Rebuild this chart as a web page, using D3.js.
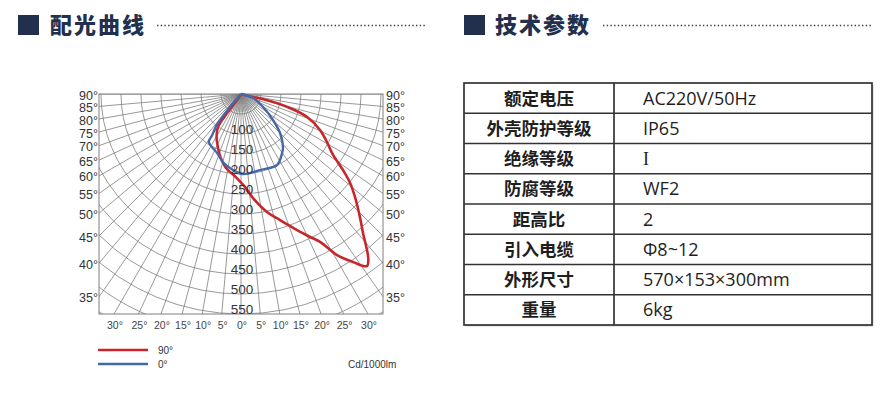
<!DOCTYPE html>
<html><head><meta charset="utf-8">
<script src="https://cdn.jsdelivr.net/npm/d3@7"></script>
<style>body{margin:0;background:#fff}svg{display:block}</style>
</head><body>
<svg id="c" width="887" height="397"></svg>
<script>
// ---- data ----
const sectionTitles = ["配光曲线", "技术参数"];
const ringValues = [100,150,200,250,300,350,400,450,500,550];
const sideAngles = [90,85,80,75,70,65,60,55,50,45,40,35];
const bottomAngles = [30,25,20,15,10,5,0];
// C-90 plane (red): angle from nadir (deg, + = right), intensity cd/1000lm
const redAngles = [-35,-34,-36,-35,-30,-26,-18,-12,-3,2.5,6.6,12.4,17.2,22.4,25.8,28.2,30.8,33.7,36.2,37.8,41.3,44,47.9,50.8,53.3,56.5,60.8,65.5,70.8,74,77,75,75];
const redValues = [0,20,59,100,122,136,166,187,210,233,262,302,330,368,397,420,469,505,533,519,462,428,384,352,318,276,246,217,175,127,56,25,0];
// C-0 plane (blue)
const blueAngles = [-42,-41,-40,-39,-38,-35,-34,-29,-22,-15,-6,1.4,14,26.9,34.8,38.4,45,50.9,59.4,71.6,75];
const blueValues = [0,22,53,84,100,126,144,151,159,176,191,200,196,199,180,169,138,103,64,32,0];
const legendNames = ["90°","0°"];
const unitLabel = "Cd/1000lm";
const tableKeys = ["额定电压","外壳防护等级","绝缘等级","防腐等级","距高比","引入电缆","外形尺寸","重量"];
const tableVals = ["AC220V/50Hz","IP65","I","WF2","2","Φ8~12","570×153×300mm","6kg"];

// ---- layout ----
const svg = d3.select("#c");
const navy = "#22304e";
const red = "#c9262c", blue = "#4568a8";

const hdr = [{x:18, tx:50, dx0:157, dx1:425, t:sectionTitles[0]},{x:464, tx:495, dx0:603, dx1:872, t:sectionTitles[1]}];
hdr.forEach(h=>{
  svg.append("rect").attr("x",h.x).attr("y",15).attr("width",21).attr("height",20).attr("fill",navy);
  svg.append("text").attr("x",h.tx).attr("y",33).text(h.t)
    .attr("font-family","'Noto Sans CJK SC'").attr("font-weight",900).attr("font-size",22)
    .attr("letter-spacing",2).attr("fill",navy);
  svg.append("line").attr("x1",h.dx0).attr("x2",h.dx1).attr("y1",25.5).attr("y2",25.5)
    .attr("stroke","#3a3f4f").attr("stroke-width",1.3).attr("stroke-dasharray","1.4,2.3");
});

// polar grid
const cx = 241, cy = 94, boxL = 99, boxR = 383, boxB = 314;
const r = d3.scaleLinear().domain([0,550]).range([0, boxB-cy]);
const rad = d => d*Math.PI/180;
svg.append("clipPath").attr("id","box").append("rect")
  .attr("x",boxL).attr("y",cy).attr("width",boxR-boxL).attr("height",boxB-cy);
const grid = svg.append("g").attr("clip-path","url(#box)");
grid.append("circle").attr("cx",cx).attr("cy",cy).attr("r",r(45)).attr("fill","#d9d9d9");
grid.selectAll(".ring").data(d3.range(50,751,50)).join("circle")
  .attr("cx",cx).attr("cy",cy).attr("r",d=>r(d)).attr("fill","none")
  .attr("stroke","#7f7f7f").attr("stroke-width",0.8);
grid.selectAll(".spoke").data(d3.range(-90,91,5)).join("line")
  .attr("x1",cx).attr("y1",cy)
  .attr("x2",d=>cx+r(800)*Math.sin(rad(d))).attr("y2",d=>cy+r(800)*Math.cos(rad(d)))
  .attr("stroke","#7f7f7f").attr("stroke-width",0.8);
svg.append("rect").attr("x",boxL).attr("y",cy).attr("width",boxR-boxL).attr("height",boxB-cy)
  .attr("fill","none").attr("stroke","#7f7f7f").attr("stroke-width",1);

// curves
const radial = (A,V) => d3.lineRadial()
  .angle(i=>Math.PI - rad(A[i])).radius(i=>r(V[i]))
  .curve(d3.curveCatmullRom.alpha(0.5))(d3.range(A.length));
const curves = svg.append("g").attr("transform",`translate(${cx},${cy})`);
curves.append("path").attr("d",radial(redAngles,redValues)).attr("fill","none")
  .attr("stroke",red).attr("stroke-width",2.6).attr("stroke-linejoin","round");
curves.append("path").attr("d",radial(blueAngles,blueValues)).attr("fill","none")
  .attr("stroke",blue).attr("stroke-width",2.4).attr("stroke-linejoin","round");

// ring labels
const lf = "'Liberation Sans',Arial";
svg.selectAll(".rl").data(ringValues).join("text")
  .attr("x",cx+1).attr("y",d=>cy+r(d)-0.5).attr("text-anchor","middle")
  .attr("font-family",lf).attr("font-size",13.5).attr("fill","#333")
  .text(d=>d);

// side angle labels
const sideY = a => a===90 ? cy : cy + (boxR-cx)/Math.tan(rad(a));
svg.selectAll(".la").data(sideAngles).join("text")
  .attr("x",boxL-1).attr("y",d=>sideY(d)+5.5).attr("text-anchor","end")
  .attr("font-family",lf).attr("font-size",12.5).attr("fill","#333").text(d=>d+"°");
svg.selectAll(".ra").data(sideAngles).join("text")
  .attr("x",boxR+3).attr("y",d=>sideY(d)+5.5).attr("text-anchor","start")
  .attr("font-family",lf).attr("font-size",12.5).attr("fill","#333").text(d=>d+"°");
// bottom angle labels
const botX = a => r(550)*Math.tan(rad(a));
const bl = [...bottomAngles.map(a=>({a, x:cx-botX(a)})), ...bottomAngles.slice(0,-1).reverse().map(a=>({a, x:cx+botX(a)}))];
svg.selectAll(".ba").data(bl).join("text")
  .attr("x",d=>d.x+1).attr("y",329).attr("text-anchor","middle")
  .attr("font-family",lf).attr("font-size",10.5).attr("fill","#444").text(d=>d.a+"°");

// legend
[[red,350,legendNames[0]],[blue,364,legendNames[1]]].forEach(([c,y,t])=>{
  svg.append("line").attr("x1",98).attr("x2",148).attr("y1",y).attr("y2",y).attr("stroke",c).attr("stroke-width",2.4);
  svg.append("text").attr("x",158).attr("y",y+3.5).attr("font-family",lf).attr("font-size",10).attr("fill","#333").text(t);
});
svg.append("text").attr("x",348).attr("y",368).attr("font-family",lf).attr("font-size",10).attr("fill","#333").text(unitLabel);

// table
const tx0 = 464, tx1 = 872, tmid = 614, ty0 = 83, rowH = 30.25;
const tg = svg.append("g");
tg.append("rect").attr("x",tx0+1.5).attr("y",ty0+1.5).attr("width",tx1-tx0).attr("height",rowH*tableKeys.length)
  .attr("fill","#d0d0d0");
tg.append("rect").attr("x",tx0).attr("y",ty0).attr("width",tx1-tx0).attr("height",rowH*tableKeys.length)
  .attr("fill","#fff").attr("stroke","#333").attr("stroke-width",1.7);
tg.selectAll(".hl").data(d3.range(1,tableKeys.length)).join("line")
  .attr("x1",tx0).attr("x2",tx1).attr("y1",i=>ty0+i*rowH).attr("y2",i=>ty0+i*rowH)
  .attr("stroke","#333").attr("stroke-width",1.7);
tg.append("line").attr("x1",tmid).attr("x2",tmid).attr("y1",ty0).attr("y2",ty0+rowH*tableKeys.length)
  .attr("stroke","#333").attr("stroke-width",1.7);
tg.selectAll(".tk").data(tableKeys).join("text")
  .attr("x",(tx0+tmid)/2).attr("y",(d,i)=>ty0+i*rowH+21.5).attr("text-anchor","middle")
  .attr("font-family","'Noto Sans CJK SC'").attr("font-weight",700).attr("font-size",17.5)
  .attr("fill","#1e1e1e").text(d=>d);
tg.selectAll(".tv").data(tableVals).join("text")
  .attr("x",643).attr("y",(d,i)=>ty0+i*rowH+21.5)
  .attr("font-family",d=>d==="I" ? "'Liberation Serif',serif" : "'Open Sans','Noto Sans CJK SC'")
  .attr("font-size",18).attr("fill","#1e1e1e").text(d=>d);
</script>
</body></html>
